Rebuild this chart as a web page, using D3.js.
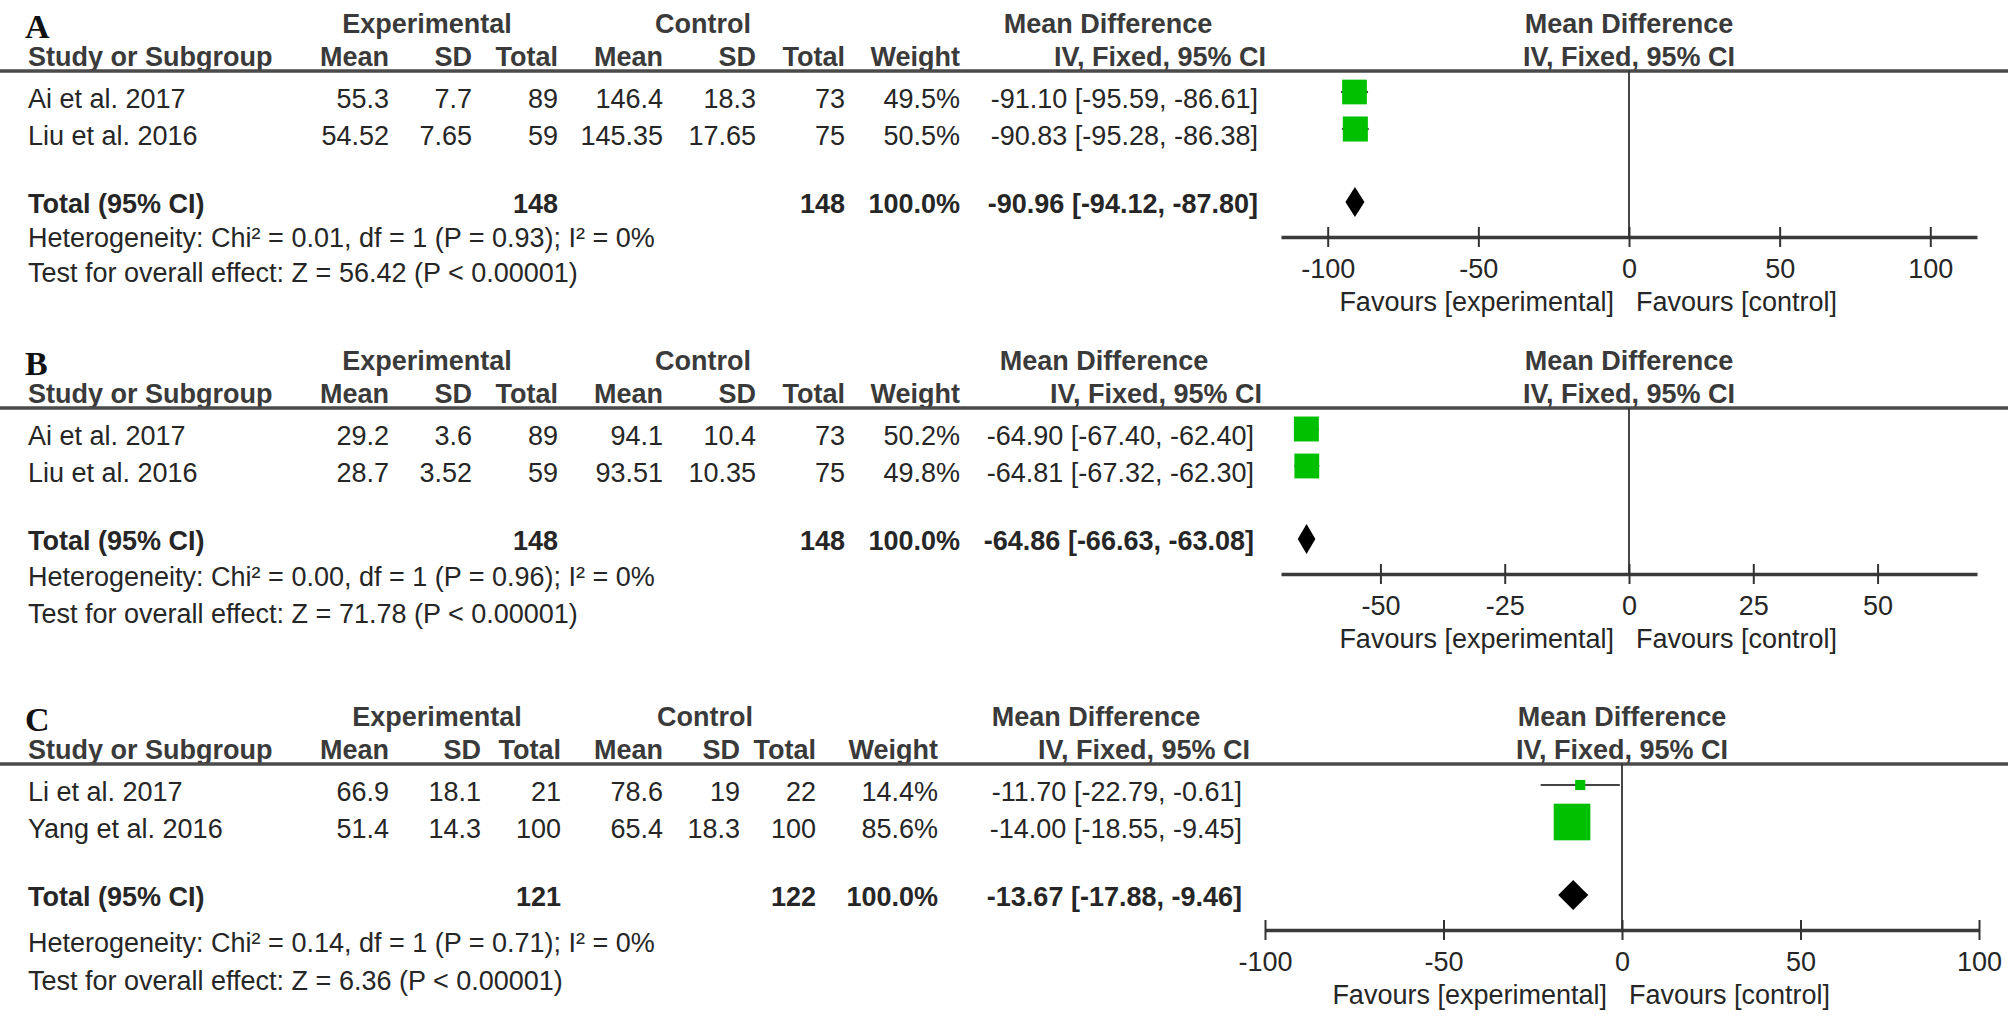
<!DOCTYPE html>
<html><head><meta charset="utf-8">
<script src="https://cdn.jsdelivr.net/npm/d3@7"></script>
<style>
html,body{margin:0;padding:0;background:#fff;}
svg{display:block;}
</style></head><body>
<svg id="chart" width="2008" height="1025"></svg>
<script>
// ---------------- DATA ----------------
const panelLetters = ["A", "B", "C"];
const studyNames = [["Ai et al. 2017", "Liu et al. 2016"], ["Ai et al. 2017", "Liu et al. 2016"], ["Li et al. 2017", "Yang et al. 2016"]];
const expMean  = [["55.3", "54.52"], ["29.2", "28.7"], ["66.9", "51.4"]];
const expSD    = [["7.7", "7.65"], ["3.6", "3.52"], ["18.1", "14.3"]];
const expTotal = [[89, 59], [89, 59], [21, 100]];
const ctlMean  = [["146.4", "145.35"], ["94.1", "93.51"], ["78.6", "65.4"]];
const ctlSD    = [["18.3", "17.65"], ["10.4", "10.35"], ["19", "18.3"]];
const ctlTotal = [[73, 75], [73, 75], [22, 100]];
const weights  = [[49.5, 50.5], [50.2, 49.8], [14.4, 85.6]];
const meanDiff = [[-91.10, -90.83], [-64.90, -64.81], [-11.70, -14.00]];
const ciLow    = [[-95.59, -95.28], [-67.40, -67.32], [-22.79, -18.55]];
const ciHigh   = [[-86.61, -86.38], [-62.40, -62.30], [-0.61, -9.45]];
const totalExp = [148, 148, 121];
const totalCtl = [148, 148, 122];
const pooledMD   = [-90.96, -64.86, -13.67];
const pooledLow  = [-94.12, -66.63, -17.88];
const pooledHigh = [-87.80, -63.08, -9.46];
const heterogeneity = [
  "Heterogeneity: Chi² = 0.01, df = 1 (P = 0.93); I² = 0%",
  "Heterogeneity: Chi² = 0.00, df = 1 (P = 0.96); I² = 0%",
  "Heterogeneity: Chi² = 0.14, df = 1 (P = 0.71); I² = 0%"
];
const overallTest = [
  "Test for overall effect: Z = 56.42 (P < 0.00001)",
  "Test for overall effect: Z = 71.78 (P < 0.00001)",
  "Test for overall effect: Z = 6.36 (P < 0.00001)"
];
const axisTicks  = [[-100, -50, 0, 50, 100], [-50, -25, 0, 25, 50], [-100, -50, 0, 50, 100]];
const axisExtent = [115.5, 70, 100];

// ---------------- LAYOUT ----------------
const svg = d3.select("#chart");
const FS = 27;
const SANS = "'Liberation Sans', Arial, Helvetica, sans-serif";
const SERIF = "'Liberation Serif', 'Times New Roman', serif";
const ruleY = [71, 408, 764];
const hetY  = [247, 586, 952];
const testY = [282, 623, 990];
const cols = [
  {expMean:389, expSD:472, expTotal:558, ctlMean:663, ctlSD:756, ctlTotal:845, weight:960, ciHdr:1266, ci:1258, expHdr:427, ctlHdr:703, mdHdr:1108},
  {expMean:389, expSD:472, expTotal:558, ctlMean:663, ctlSD:756, ctlTotal:845, weight:960, ciHdr:1262, ci:1254, expHdr:427, ctlHdr:703, mdHdr:1104},
  {expMean:389, expSD:481, expTotal:561, ctlMean:663, ctlSD:740, ctlTotal:816, weight:938, ciHdr:1250, ci:1242, expHdr:437, ctlHdr:705, mdHdr:1096}
];
const plotRange = [[1281, 1977], [1281, 1977], [1265, 1979]];
const sizeScale = d3.scalePow().exponent(0.72).domain([0, 100]).range([0, 41]);
const fmt2 = d3.format(".2f");
const fmtCI = (m, l, h) => `${fmt2(m)} [${fmt2(l)}, ${fmt2(h)}]`.replace(/\u2212/g, "-");

function txt(g, x, y, s, opts = {}) {
  return g.append("text")
    .attr("x", x).attr("y", y)
    .attr("text-anchor", opts.anchor || "start")
    .style("font-size", (opts.size || FS) + "px")
    .style("font-weight", opts.bold ? "bold" : "normal")
    .style("font-family", opts.family || SANS)
    .attr("fill", opts.fill || "#262626")
    .text(s);
}

panelLetters.forEach((letter, p) => {
  const g = svg.append("g");
  const r = ruleY[p];
  const c = cols[p];
  const x = d3.scaleLinear().domain([-axisExtent[p], axisExtent[p]]).range(plotRange[p]);
  const zx = x(0);
  const axisY = r + 166;

  // panel letter
  txt(g, 25, r - 33, letter, {bold: true, size: 34, family: SERIF, fill: "#111"});

  // header rows
  const H1 = r - 38, H2 = r - 5;
  const hc = "#3a3a3a";
  txt(g, c.expHdr, H1, "Experimental", {bold: true, anchor: "middle", fill: hc});
  txt(g, c.ctlHdr, H1, "Control", {bold: true, anchor: "middle", fill: hc});
  txt(g, c.mdHdr, H1, "Mean Difference", {bold: true, anchor: "middle", fill: hc});
  txt(g, zx, H1, "Mean Difference", {bold: true, anchor: "middle", fill: hc});

  txt(g, 28, H2, "Study or Subgroup", {bold: true, fill: hc});
  [["Mean", c.expMean], ["SD", c.expSD], ["Total", c.expTotal], ["Mean", c.ctlMean], ["SD", c.ctlSD], ["Total", c.ctlTotal], ["Weight", c.weight], ["IV, Fixed, 95% CI", c.ciHdr]]
    .forEach(([s, xx]) => txt(g, xx, H2, s, {bold: true, anchor: "end", fill: hc}));
  txt(g, zx, H2, "IV, Fixed, 95% CI", {bold: true, anchor: "middle", fill: hc});

  // rule
  g.append("line").attr("x1", 0).attr("x2", 2008).attr("y1", r).attr("y2", r)
    .attr("stroke", "#4a4a4a").attr("stroke-width", 3.5);

  // zero line
  g.append("line").attr("x1", zx).attr("x2", zx).attr("y1", r).attr("y2", axisY)
    .attr("stroke", "#333").attr("stroke-width", 1.8);

  // study rows
  studyNames[p].forEach((name, i) => {
    const y = r + 37 + 37 * i;
    txt(g, 28, y, name);
    txt(g, c.expMean, y, expMean[p][i], {anchor: "end"});
    txt(g, c.expSD, y, expSD[p][i], {anchor: "end"});
    txt(g, c.expTotal, y, expTotal[p][i], {anchor: "end"});
    txt(g, c.ctlMean, y, ctlMean[p][i], {anchor: "end"});
    txt(g, c.ctlSD, y, ctlSD[p][i], {anchor: "end"});
    txt(g, c.ctlTotal, y, ctlTotal[p][i], {anchor: "end"});
    txt(g, c.weight, y, weights[p][i].toFixed(1) + "%", {anchor: "end"});
    txt(g, c.ci, y, fmtCI(meanDiff[p][i], ciLow[p][i], ciHigh[p][i]), {anchor: "end"});

    const my = y - 16;
    g.append("line").attr("x1", x(ciLow[p][i])).attr("x2", x(ciHigh[p][i]))
      .attr("y1", my).attr("y2", my).attr("stroke", "#444").attr("stroke-width", 2.2);
    const s = sizeScale(weights[p][i]);
    g.append("rect").attr("x", x(meanDiff[p][i]) - s / 2).attr("y", my - s / 2)
      .attr("width", s).attr("height", s).attr("fill", "#00c000");
  });

  // total row
  const ty = r + 142;
  txt(g, 28, ty, "Total (95% CI)", {bold: true});
  txt(g, c.expTotal, ty, totalExp[p], {bold: true, anchor: "end"});
  txt(g, c.ctlTotal, ty, totalCtl[p], {bold: true, anchor: "end"});
  txt(g, c.weight, ty, "100.0%", {bold: true, anchor: "end"});
  txt(g, c.ci, ty, fmtCI(pooledMD[p], pooledLow[p], pooledHigh[p]), {bold: true, anchor: "end"});
  const dy = r + 131, dh = 15;
  g.append("path")
    .attr("d", `M${x(pooledLow[p])},${dy} L${x(pooledMD[p])},${dy - dh} L${x(pooledHigh[p])},${dy} L${x(pooledMD[p])},${dy + dh} Z`)
    .attr("fill", "#000");

  // heterogeneity & test
  txt(g, 28, hetY[p], heterogeneity[p]);
  txt(g, 28, testY[p], overallTest[p]);

  // axis
  const ax = g.append("g").attr("transform", `translate(0,${axisY})`)
    .call(d3.axisBottom(x).tickValues(axisTicks[p]).tickSize(9).tickSizeOuter(0).tickFormat(d => String(d)));
  ax.select(".domain").attr("stroke", "#3a3a3a").attr("stroke-width", 3.5);
  ax.selectAll(".tick line").attr("y1", -10).attr("y2", 10).attr("stroke", "#333").attr("stroke-width", 2);
  ax.selectAll(".tick text").attr("y", 22)
    .style("font-size", FS + "px").style("font-family", SANS).attr("fill", "#262626");

  // favours labels
  txt(g, zx - 15, r + 240, "Favours [experimental]", {anchor: "end"});
  txt(g, zx + 7, r + 240, "Favours [control]");
});
</script>
</body></html>
